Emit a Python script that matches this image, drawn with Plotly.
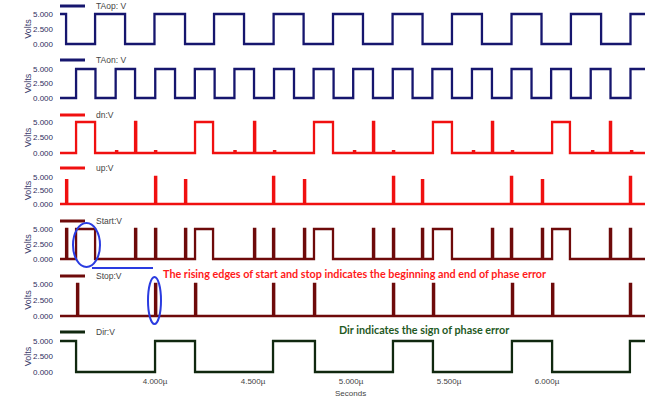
import plotly.graph_objects as go

# ---------------- data (times in microseconds) ----------------
T_START, T_END = 3.515, 6.5

TAop_rise = [3.515, 3.694, 3.997, 4.301, 4.605, 4.908, 5.212, 5.515, 5.819, 6.122, 6.426]
TAop_fall = [3.546, 3.847, 4.153, 4.454, 4.758, 5.061, 5.365, 5.668, 5.972, 6.276, 6.5]

TAon_rise = [3.597, 3.799, 4.001, 4.203, 4.405, 4.607, 4.809, 5.011, 5.213, 5.415,
             5.617, 5.819, 6.021, 6.223, 6.426]
TAon_fall = [3.696, 3.898, 4.102, 4.304, 4.505, 4.709, 4.911, 5.112, 5.314, 5.515,
             5.719, 5.921, 6.122, 6.324, 6.5]

dn_rise = [3.597, 4.204, 4.811, 5.418, 6.026]
dn_fall = [3.694, 4.296, 4.908, 5.515, 6.117]
dn_spikes = [3.898, 4.505, 5.112, 5.719, 6.321]
dn_spike_v = [5.0, 5.0, 5.0, 5.0, 5.0]
dn_blips = [3.801, 4.0, 4.405, 4.607, 5.015, 5.214, 5.622, 5.821, 6.23, 6.429]
dn_blip_v = [0.3] * 10

up_spikes = [3.546, 4.0, 4.153, 4.602, 4.760, 5.214, 5.362, 5.816, 5.974, 6.423]
up_spike_v = [4.4, 5.0, 4.4, 5.0, 4.4, 5.0, 4.4, 5.0, 4.4, 5.0]

start_rise = [3.597, 4.204, 4.811, 5.418, 6.026]
start_fall = [3.694, 4.296, 4.908, 5.515, 6.117]
start_spikes = [3.546, 3.898, 4.0, 4.153, 4.505, 4.602, 4.760, 5.112, 5.214, 5.362,
                5.719, 5.816, 5.974, 6.321, 6.423]
start_spike_v = [5.0] * 15

stop_spikes = [3.602, 4.0, 4.204, 4.602, 4.811, 5.214, 5.418, 5.821, 6.026, 6.423]
stop_spike_v = [5.0] * 10

dir_rise = [3.515, 4.0, 4.602, 5.214, 5.821, 6.423]
dir_fall = [3.597, 4.204, 4.816, 5.418, 6.026, 6.5]

names = ["TAop: V", "TAon: V", "dn:V", "up:V", "Start:V", "Stop:V", "Dir:V"]
colors = ["#16166e", "#16166e", "#f01010", "#f01010", "#6e0a0a", "#6e0a0a", "#10280f"]

x_tickvals = [4.0, 4.5, 5.0, 5.5, 6.0]
x_ticktext = ["4.000\u00b5", "4.500\u00b5", "5.000\u00b5", "5.500\u00b5", "6.000\u00b5"]
y_tickvals = [0, 2.5, 5]
y_ticktext = ["0.000", "2.500", "5.000"]

SPW = 0.006


def wave(rises, falls, spikes=(), spike_v=()):
    segs = [(s, e, 5.0) for s, e in zip(rises, falls)]
    segs += [(t, t + SPW, h) for t, h in zip(spikes, spike_v)]
    segs.sort()
    xs, ys = [T_START], [segs[0][2] if segs and segs[0][0] <= T_START else 0.0]
    for s, e, h in segs:
        if s > T_START:
            xs += [s, s]
            ys += [0.0, h]
        if e < T_END:
            xs += [e, e]
            ys += [h, 0.0]
        else:
            xs.append(T_END)
            ys.append(h)
    if xs[-1] < T_END:
        xs.append(T_END)
        ys.append(0.0)
    return xs, ys


waves = [
    wave(TAop_rise, TAop_fall),
    wave(TAon_rise, TAon_fall),
    wave(dn_rise, dn_fall, dn_spikes + dn_blips, dn_spike_v + dn_blip_v),
    wave([], [], up_spikes, up_spike_v),
    wave(start_rise, start_fall, start_spikes, start_spike_v),
    wave([], [], stop_spikes, stop_spike_v),
    wave(dir_rise, dir_fall),
]

# ---------------- layout (pixel positions of the 0 V and 5 V levels) ----------------
H, W = 397, 653
zero_px = [44, 98, 153, 204, 259, 316, 372]
five_px = [14, 69, 122, 177, 229, 284, 341]
legend_px = [6, 60, 115, 168, 221, 276, 332]

fig = go.Figure()
layout = dict(
    width=W, height=H,
    margin=dict(l=60, r=8, t=0, b=0, autoexpand=False),
    paper_bgcolor="white", plot_bgcolor="white",
    showlegend=False,
    font=dict(family="Liberation Sans, Arial, sans-serif", size=8, color="#333355"),
)

shapes, annos = [], []
for i in range(7):
    xs, ys = waves[i]
    ax = "" if i == 0 else str(i + 1)
    fig.add_trace(go.Scatter(x=xs, y=ys, mode="lines", xaxis="x" + ax, yaxis="y" + ax,
                             line=dict(color=colors[i], width=2.3), hoverinfo="skip"))
    pv = (zero_px[i] - five_px[i]) / 5.0
    bot = zero_px[i] + 0.5 * pv
    top = five_px[i] - 0.5 * pv
    layout["yaxis" + ax] = dict(
        domain=[1 - bot / H, 1 - top / H], range=[-0.5, 5.5], anchor="x" + ax,
        tickvals=y_tickvals, ticktext=y_ticktext, showgrid=False, zeroline=False,
        showline=False, ticks="", ticklabelstandoff=6,
        tickfont=dict(size=8, color="#2e2e5e"), fixedrange=True,
    )
    layout["xaxis" + ax] = dict(
        range=[T_START, T_END], anchor="y" + ax, showgrid=False, zeroline=False,
        showline=False, ticks="", showticklabels=(i == 6),
        tickvals=x_tickvals, ticktext=x_ticktext,
        tickfont=dict(size=8, color="#444444"), fixedrange=True,
        domain=[0, 1],
    )
    ymid = 1 - ((zero_px[i] + five_px[i]) / 2) / H
    annos.append(dict(text="Volts", xref="paper", yref="paper", x=-0.055, y=ymid,
                      xanchor="center", yanchor="middle", textangle=-90, showarrow=False,
                      font=dict(size=9, color="#3a3a6a")))
    ly = 1 - legend_px[i] / H
    shapes.append(dict(type="line", xref="paper", yref="paper", x0=0, x1=25 / 585,
                       y0=ly, y1=ly, line=dict(color=colors[i], width=3)))
    annos.append(dict(text=names[i], xref="paper", yref="paper", x=34 / 585, y=ly,
                      xanchor="left", yanchor="middle", showarrow=False,
                      font=dict(size=8.5, color="#444444")))

annos.append(dict(text="Seconds", xref="paper", yref="paper", x=(350 - 60) / 585,
                  y=1 - 393 / H, xanchor="center", yanchor="middle", showarrow=False,
                  font=dict(size=8, color="#444444")))
annos.append(dict(text="<b>The rising edges of start and stop indicates the beginning and end of phase error</b>",
                  xref="paper", yref="paper", x=(161 - 60) / 585, y=1 - 273 / H,
                  xanchor="left", yanchor="middle", showarrow=False,
                  font=dict(family="Lato, sans-serif", size=10.8, color="#ff1a1a")))
annos.append(dict(text="<b>Dir indicates the sign of phase error</b>",
                  xref="paper", yref="paper", x=(337 - 60) / 585, y=1 - 329 / H,
                  xanchor="left", yanchor="middle", showarrow=False,
                  font=dict(family="Lato, sans-serif", size=10.8, color="#1f5a1f")))


def px_x(p):
    return (p - 60) / 585


def px_y(p):
    return 1 - p / H


blue = "#2a3be0"
shapes.append(dict(type="circle", xref="paper", yref="paper",
                   x0=px_x(73), x1=px_x(100), y0=px_y(267), y1=px_y(223),
                   line=dict(color=blue, width=2)))
shapes.append(dict(type="line", xref="paper", yref="paper",
                   x0=px_x(92), x1=px_x(153), y0=px_y(268), y1=px_y(268),
                   line=dict(color=blue, width=2)))
shapes.append(dict(type="circle", xref="paper", yref="paper",
                   x0=px_x(148), x1=px_x(161), y0=px_y(324), y1=px_y(277),
                   line=dict(color=blue, width=2)))

layout["shapes"] = shapes
layout["annotations"] = annos
fig.update_layout(**layout)
fig.write_html("out.html", config={"displayModeBar": False},
               post_script="document.body.style.margin='0px';document.body.style.overflow='hidden';")
